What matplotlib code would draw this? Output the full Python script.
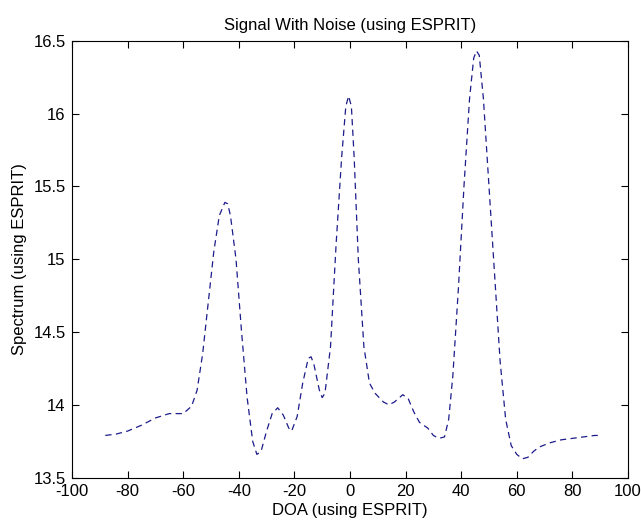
import matplotlib
matplotlib.use("Agg")
import matplotlib.pyplot as plt
import numpy as np

# DOA angle (deg) and ESPRIT spectrum
doa = [-88, -84, -80, -75, -70, -65, -60, -57, -55, -53, -51, -49, -47,
       -45, -44, -43, -41, -39, -37, -35, -33.5, -32, -30, -28, -26, -24,
       -22, -21, -19, -17, -15, -14, -13, -11, -10, -9, -7, -5, -3, -1.5,
       -0.5, 0.5, 1.5, 3, 5, 7, 9, 12, 14, 16, 19, 21, 23, 25, 28, 30, 32,
       34, 35.5, 37, 39, 41, 43, 44.5, 45.5, 46.5, 48, 50, 52, 54, 56, 58,
       60, 62, 64, 66, 68, 72, 76, 80, 84, 88, 90]
spectrum = [13.79, 13.80, 13.82, 13.86, 13.91, 13.94, 13.94, 13.99, 14.10,
            14.35, 14.70, 15.05, 15.30, 15.39, 15.38, 15.30, 15.00, 14.50,
            14.05, 13.75, 13.66, 13.68, 13.82, 13.94, 13.98, 13.93, 13.84,
            13.82, 13.92, 14.15, 14.32, 14.33, 14.28, 14.10, 14.05, 14.08,
            14.40, 15.10, 15.70, 16.05, 16.12, 16.05, 15.70, 15.00, 14.40,
            14.15, 14.08, 14.02, 14.00, 14.02, 14.07, 14.04, 13.95, 13.88,
            13.84, 13.79, 13.77, 13.78, 13.90, 14.20, 14.80, 15.50, 16.10,
            16.38, 16.43, 16.40, 16.10, 15.50, 14.90, 14.30, 13.90, 13.72,
            13.66, 13.63, 13.64, 13.68, 13.71, 13.74, 13.76, 13.77, 13.78,
            13.79, 13.79]

x_ticks = list(range(-100, 101, 20))
y_ticks = [13.5, 14, 14.5, 15, 15.5, 16, 16.5]
y_labels = ["13.5", "14", "14.5", "15", "15.5", "16", "16.5"]

plt.rcParams["font.family"] = ["Liberation Sans", "DejaVu Sans"]
plt.rcParams["font.size"] = 12
plt.rcParams["axes.unicode_minus"] = False

fig = plt.figure(figsize=(6.41, 5.25), dpi=100)
ax = fig.add_axes([0.1123, 0.0901, 0.8674, 0.8324])

ax.plot(doa, spectrum, color="#1c1c8a", linewidth=0.9,
        linestyle=(0, (5, 3.5)))

ax.set_xlim(-100, 100)
ax.set_ylim(13.5, 16.5)
ax.set_xticks(x_ticks)
ax.set_yticks(y_ticks)
ax.set_yticklabels(y_labels)
ax.tick_params(direction="in", length=5, width=0.8, top=True, right=True,
               labelsize=12)
ax.tick_params(axis="x", pad=4.5)
ax.tick_params(axis="y", pad=4.5)
for side in ax.spines.values():
    side.set_linewidth(0.8)

ax.set_title("Signal With Noise (using ESPRIT)", fontsize=12, pad=8)
ax.set_xlabel("DOA (using ESPRIT)", fontsize=12, labelpad=3)
ax.set_ylabel("Spectrum (using ESPRIT)", fontsize=12, labelpad=5)

fig.savefig("out.png", dpi=100, facecolor="white")
